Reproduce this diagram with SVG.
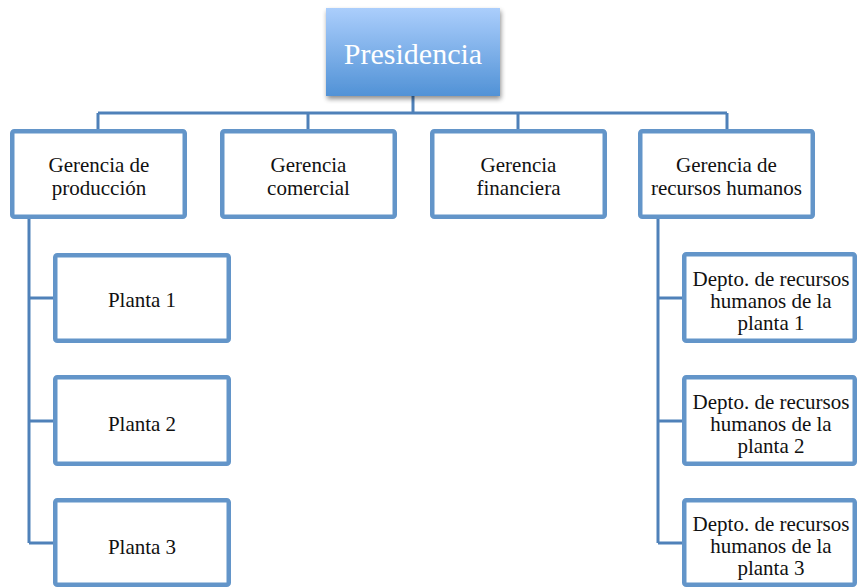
<svg xmlns="http://www.w3.org/2000/svg" width="857" height="587" viewBox="0 0 857 587">
<defs>
<linearGradient id="g" x1="0" y1="0" x2="0" y2="1">
<stop offset="0" stop-color="#abcefc"/>
<stop offset="1" stop-color="#5192d6"/>
</linearGradient>
<filter id="sh" x="-10%" y="-10%" width="125%" height="130%">
<feGaussianBlur in="SourceAlpha" stdDeviation="2.5"/>
<feOffset dx="1" dy="3" result="b"/>
<feComponentTransfer><feFuncA type="linear" slope="0.45"/></feComponentTransfer>
<feMerge><feMergeNode/><feMergeNode in="SourceGraphic"/></feMerge>
</filter>
</defs>
<style>
.box{fill:#fff;stroke:#6395c9;stroke-width:4.5}
.t{font-family:"Liberation Serif","Times New Roman",serif;font-size:21px;fill:#111;text-anchor:middle}
.c{fill:none;stroke:#4f81b9;stroke-width:3}
</style>
<rect width="857" height="587" fill="#fff"/>
<g id="connectors">
<path class="c" d="M413 96V113M98 113H727M98 113V129M308 113V129M518 113V129M727 113V129"/>
<path class="c" d="M29 219V543M29 298H53M29 421H53M29 543H53"/>
<path class="c" d="M658 219V543M658 298H682M658 421H682M658 543H682"/>
</g>
<g id="presidencia">
<rect x="326" y="8" width="174" height="88" fill="url(#g)" filter="url(#sh)"/>
<text x="413" y="64" class="t" style="font-size:30px;fill:#fff">Presidencia</text>
</g>
<g id="g-produccion">
<rect class="box" x="12.25" y="131.25" width="172.5" height="85.5" rx="2"/>
<text class="t" x="99" y="172">Gerencia de</text>
<text class="t" x="99" y="194.5">producción</text>
</g>
<g id="g-comercial">
<rect class="box" x="222.25" y="131.25" width="172.5" height="85.5" rx="2"/>
<text class="t" x="308.5" y="172">Gerencia</text>
<text class="t" x="308.5" y="194.5">comercial</text>
</g>
<g id="g-financiera">
<rect class="box" x="432.25" y="131.25" width="172.5" height="85.5" rx="2"/>
<text class="t" x="518.5" y="172">Gerencia</text>
<text class="t" x="518.5" y="194.5">financiera</text>
</g>
<g id="g-rrhh">
<rect class="box" x="640.25" y="131.25" width="172.5" height="85.5" rx="2"/>
<text class="t" x="726.5" y="172">Gerencia de</text>
<text class="t" x="726.5" y="194.5">recursos humanos</text>
</g>
<g id="planta1">
<rect class="box" x="55.25" y="255.25" width="173.5" height="85.5" rx="2"/>
<text class="t" x="142" y="307">Planta 1</text>
</g>
<g id="planta2">
<rect class="box" x="55.25" y="377.25" width="173.5" height="86.5" rx="2"/>
<text class="t" x="142" y="430.5">Planta 2</text>
</g>
<g id="planta3">
<rect class="box" x="55.25" y="500.25" width="173.5" height="84.5" rx="2"/>
<text class="t" x="142" y="554">Planta 3</text>
</g>
<g id="depto1">
<rect class="box" x="684.25" y="254.25" width="170.5" height="86.5" rx="2"/>
<text class="t" x="771" y="285.5">Depto. de recursos</text>
<text class="t" x="771" y="307.5">humanos de la</text>
<text class="t" x="771" y="329.5">planta 1</text>
</g>
<g id="depto2">
<rect class="box" x="684.25" y="377.25" width="170.5" height="86.5" rx="2"/>
<text class="t" x="771" y="408.5">Depto. de recursos</text>
<text class="t" x="771" y="430.5">humanos de la</text>
<text class="t" x="771" y="452.5">planta 2</text>
</g>
<g id="depto3">
<rect class="box" x="684.25" y="500.25" width="170.5" height="84.5" rx="2"/>
<text class="t" x="771" y="530.5">Depto. de recursos</text>
<text class="t" x="771" y="552.5">humanos de la</text>
<text class="t" x="771" y="574.5">planta 3</text>
</g>
</svg>
